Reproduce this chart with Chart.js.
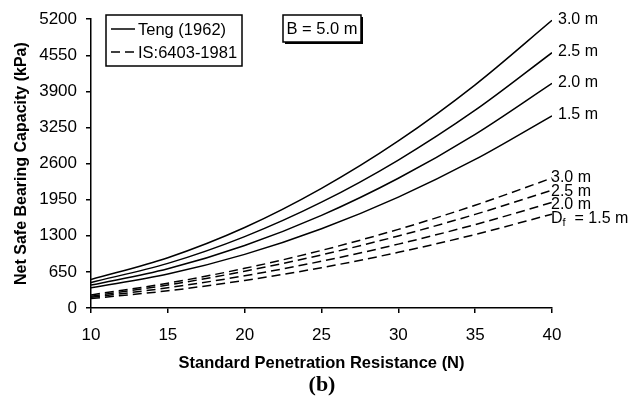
<!DOCTYPE html>
<html>
<head>
<meta charset="utf-8">
<script src="https://cdn.jsdelivr.net/npm/chart.js@4"></script>
<style>
  body { margin: 0; background: #fff; }
  #wrap { width: 644px; height: 405px; position: relative; }
</style>
</head>
<body>
<div id="wrap"><canvas id="bearingChart"></canvas></div>
<script>
const spt = [10, 15, 20, 25, 30, 35, 40];
const yTicks = [0, 650, 1300, 1950, 2600, 3250, 3900, 4550, 5200];

// Teng (1962), solid
const teng30 = [513, 906, 1450, 2155, 3009, 4019, 5180];
const teng25 = [460, 803, 1285, 1905, 2664, 3561, 4597];
const teng20 = [412, 706, 1125, 1668, 2336, 3128, 4046];
const teng15 = [365, 611, 965, 1427, 1997, 2675, 3461];

// IS:6403-1981, dashed
const is30 = [235, 447, 714, 1037, 1416, 1850, 2340];
const is25 = [213, 414, 662, 956, 1297, 1686, 2120];
const is20 = [192, 364, 580, 842, 1150, 1502, 1900];
const is15 = [170, 310, 496, 726, 1002, 1324, 1690];

const tengLabels = ["3.0 m", "2.5 m", "2.0 m", "1.5 m"];
const isLabels = ["3.0 m", "2.5 m", "2.0 m", "1.5 m"];

function pts(vals) {
  return spt.map((n, i) => ({ x: n, y: vals[i] }));
}

function lineSet(vals, dashed) {
  return {
    data: pts(vals),
    borderColor: "#000",
    borderWidth: 1.5,
    borderDash: dashed ? [9, 5] : [],
    pointRadius: 0,
    fill: false,
    cubicInterpolationMode: "monotone"
  };
}

const FONT = "'Liberation Sans', Arial, sans-serif";

const notes = {
  id: "notes",
  afterDraw(chart) {
    const ctx = chart.ctx;
    const sx = chart.scales.x, sy = chart.scales.y;
    ctx.save();
    ctx.fillStyle = "#000";
    ctx.strokeStyle = "#000";
    ctx.font = "16px " + FONT;
    ctx.textBaseline = "middle";
    ctx.textAlign = "left";

    // curve labels at the end of each line
    const last = spt.length - 1;
    [teng30, teng25, teng20, teng15].forEach((v, i) => {
      const px = sx.getPixelForValue(spt[last]);
      const py = sy.getPixelForValue(v[last]);
      ctx.fillText(tengLabels[i], px + 6, py - 1);
    });
    [is30, is25, is20].forEach((v, i) => {
      const px = sx.getPixelForValue(spt[last]);
      const py = sy.getPixelForValue(v[last]);
      ctx.fillText(isLabels[i], px - 1, py + i);
    });
    {
      const px = sx.getPixelForValue(spt[last]) - 1;
      const py = sy.getPixelForValue(is15[last]) + 4;
      ctx.fillText("D", px, py);
      let w = ctx.measureText("D").width;
      ctx.font = "11px " + FONT;
      ctx.fillText("f", px + w, py + 5);
      w += ctx.measureText("f").width;
      ctx.font = "16px " + FONT;
      ctx.fillText("  = " + isLabels[3], px + w, py);
    }

    // legend box
    ctx.font = "16.5px " + FONT;
    const lx = 106, ly = 15;
    ctx.fillStyle = "#fff";
    ctx.fillRect(lx, ly, 136, 51);
    ctx.lineWidth = 1.5;
    ctx.strokeRect(lx, ly, 136, 51);
    ctx.fillStyle = "#000";
    ctx.beginPath();
    ctx.moveTo(lx + 5, ly + 14);
    ctx.lineTo(lx + 29, ly + 14);
    ctx.stroke();
    ctx.setLineDash([9, 5]);
    ctx.beginPath();
    ctx.moveTo(lx + 5, ly + 37);
    ctx.lineTo(lx + 31, ly + 37);
    ctx.stroke();
    ctx.setLineDash([]);
    ctx.fillText("Teng (1962)", lx + 32, ly + 15);
    ctx.fillText("IS:6403-1981", lx + 32, ly + 38);

    // B = 5.0 m box with shadow
    const bx = 283, by = 15;
    ctx.fillRect(bx + 2, by + 2, 78, 27);
    ctx.fillStyle = "#fff";
    ctx.fillRect(bx, by, 78, 27);
    ctx.strokeRect(bx, by, 78, 27);
    ctx.fillStyle = "#000";
    ctx.textAlign = "center";
    ctx.fillText("B = 5.0 m", bx + 39, by + 14);

    // panel letter
    ctx.font = "bold 22px 'Liberation Serif', 'Times New Roman', serif";
    ctx.fillText("(b)", 322, 385);
    ctx.restore();
  }
};

new Chart(document.getElementById("bearingChart"), {
  type: "line",
  data: {
    datasets: [
      lineSet(teng30, false), lineSet(teng25, false),
      lineSet(teng20, false), lineSet(teng15, false),
      lineSet(is30, true), lineSet(is25, true),
      lineSet(is20, true), lineSet(is15, true)
    ]
  },
  options: {
    responsive: true,
    maintainAspectRatio: false,
    animation: false,
    layout: { padding: { left: 0, top: 15, right: 92, bottom: 32 } },
    plugins: { legend: { display: false }, tooltip: { enabled: false } },
    scales: {
      x: {
        type: "linear",
        min: 10, max: 40,
        afterFit: s => { s.height = 65; },
        ticks: { stepSize: 5, color: "#000", font: { size: 17, family: FONT }, padding: 12, maxRotation: 0 },
        grid: { drawOnChartArea: false, drawTicks: true, tickLength: 5, color: "#000", lineWidth: 1.5 },
        border: { color: "#000", width: 1.5 },
        title: {
          display: true, text: "Standard Penetration Resistance (N)", color: "#000",
          font: { size: 16.5, weight: "bold", family: FONT }, padding: { top: 0, bottom: 0 }
        }
      },
      y: {
        min: 0, max: 5200,
        afterFit: s => { s.width = 91; },
        afterBuildTicks: s => { s.ticks = yTicks.map(v => ({ value: v })); },
        ticks: { color: "#000", font: { size: 17, family: FONT }, padding: 9, callback: v => String(v) },
        grid: { drawOnChartArea: false, drawTicks: true, tickLength: 5, color: "#000", lineWidth: 1.5 },
        border: { color: "#000", width: 1.5 },
        title: {
          display: true, text: "Net Safe Bearing Capacity (kPa)", color: "#000",
          font: { size: 16, weight: "bold", family: FONT }, padding: { top: 12, bottom: 0 }
        }
      }
    }
  },
  plugins: [notes]
});
</script>
</body>
</html>
